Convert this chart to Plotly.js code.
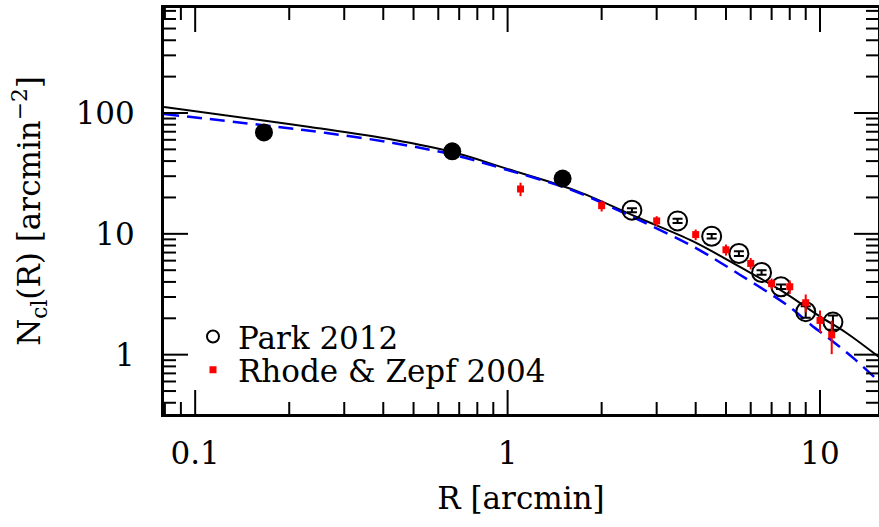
<!DOCTYPE html>
<html>
<head>
<meta charset="utf-8">
<script src="https://cdn.plot.ly/plotly-3.0.1.min.js"></script>
<style>html,body{margin:0;padding:0;background:#fff;}</style>
</head>
<body>
<div id="chart" style="width:879px;height:527px;"></div>
<script>
// ---- data ----
const fitSolidR = [0.0795, 0.1675, 0.233, 0.4305, 0.6668, 0.9927, 1.621, 2.587, 3.926, 5.539, 7.435, 9.986, 12.16, 15.43];
const fitSolidN = [112.1, 86.4, 76.6, 60.1, 47.5, 34.6, 23.2, 13.79, 8.66, 5.32, 3.45, 2.075, 1.512, 0.957];

const fitDashR = [0.0795, 0.1675, 0.2635, 0.4305, 0.6668, 0.9927, 1.621, 2.587, 3.926, 5.539, 7.888, 9.346, 11.07, 13.02, 15.43];
const fitDashN = [98.1, 78.9, 68.3, 56.5, 45.2, 33.9, 22.8, 13.27, 7.83, 4.59, 2.544, 1.771, 1.269, 0.9005, 0.601];

const innerR = [0.166, 0.665, 1.5];
const innerN = [69.1, 48.2, 28.7];

const parkR = [2.5, 3.5, 4.5, 5.5, 6.5, 7.5, 9.0, 11.0];
const parkN = [15.7, 12.8, 9.55, 6.87, 4.79, 3.65, 2.27, 1.86];
const parkErr = [0.6, 0.5, 0.4, 0.3, 0.2, 0.16, 0.25, 0.25];

const rzR = [1.1, 2.0, 3.0, 4.0, 5.0, 6.0, 7.0, 8.0, 9.0, 10.0, 10.9];
const rzN = [23.5, 17.1, 12.8, 9.86, 7.38, 5.69, 3.87, 3.65, 2.69, 1.92, 1.46];
const rzErr = [3.0, 1.8, 1.2, 1.0, 0.77, 0.62, 0.4, 0.47, 0.46, 0.4, 0.45];

const xMajor = [0.1, 1, 10];
const xMajorText = ['0.1', '1', '10'];
const xMinor = [0.08, 0.09, 0.2, 0.3, 0.4, 0.5, 0.6, 0.7, 0.8, 0.9, 2, 3, 4, 5, 6, 7, 8, 9];
const yMajor = [1, 10, 100];
const yMajorText = ['1', '10', '100'];
const yMinor = [0.4, 0.5, 0.6, 0.7, 0.8, 0.9, 2, 3, 4, 5, 6, 7, 8, 9, 20, 30, 40, 50, 60, 70, 80, 90, 200, 300, 400, 500, 600, 700];

const FONT = 'DejaVu Serif';
const W = 879, H = 527, ML = 164, MR = 1, MT = 8, MB = 113;
const PW = W - ML - MR, PH = H - MT - MB;
const MAJOR_LEN = 24, MINOR_LEN = 12;

// tick marks on all four sides, placed through the axes' own scales
const tickLine = {color: '#000', width: 2};
function xTicks(vals, len) {
  const f = len / PH;
  return vals.flatMap(v => [
    {type: 'line', xref: 'x', yref: 'paper', x0: v, x1: v, y0: 0, y1: f, line: tickLine},
    {type: 'line', xref: 'x', yref: 'paper', x0: v, x1: v, y0: 1, y1: 1 - f, line: tickLine}
  ]);
}
function yTicks(vals, len) {
  const f = len / PW;
  return vals.flatMap(v => [
    {type: 'line', xref: 'paper', yref: 'y', x0: 0, x1: f, y0: v, y1: v, line: tickLine},
    {type: 'line', xref: 'paper', yref: 'y', x0: 1, x1: 1 - f, y0: v, y1: v, line: tickLine}
  ]);
}
const tickShapes = [].concat(xTicks(xMajor, MAJOR_LEN), xTicks(xMinor, MINOR_LEN), yTicks(yMajor, MAJOR_LEN), yTicks(yMinor, MINOR_LEN));

const traces = [
  {x: fitSolidR, y: fitSolidN, mode: 'lines', line: {color: '#000', width: 2, shape: 'spline'}, showlegend: false},
  {x: fitDashR, y: fitDashN, mode: 'lines', line: {color: '#0000ff', width: 2.5, dash: '15px,8px', shape: 'spline'}, showlegend: false},
  {x: innerR, y: innerN, mode: 'markers', marker: {symbol: 'circle', size: 18, color: '#000'}, showlegend: false},
  {x: parkR, y: parkN, mode: 'markers', name: 'Park 2012', legend: 'legend',
   marker: {symbol: 'circle-open', size: 19, color: '#000', line: {width: 2, color: '#000'}},
   error_y: {type: 'data', array: parkErr, visible: true, color: '#000', thickness: 2, width: 5}},
  {x: rzR, y: rzN, mode: 'markers', name: 'Rhode &amp; Zepf 2004', legend: 'legend2',
   marker: {symbol: 'square', size: 7, color: '#ff0000'},
   error_y: {type: 'data', array: rzErr, visible: true, color: '#ff0000', thickness: 2, width: 0}}
];

const layout = {
  width: W, height: H,
  margin: {l: ML, r: MR, t: MT, b: MB},
  paper_bgcolor: '#fff', plot_bgcolor: '#fff',
  xaxis: {
    type: 'log', range: [-1.0998, 1.1856],
    showline: true, linewidth: 3, linecolor: '#000', mirror: true,
    ticks: '', showgrid: false, zeroline: false,
    tickmode: 'array', tickvals: xMajor, ticktext: xMajorText,
    tickfont: {family: FONT, size: 31, color: '#000'},
    ticklabelstandoff: 10,
    title: {text: 'R [arcmin]', font: {family: FONT, size: 31, color: '#000'}, standoff: 18}
  },
  yaxis: {
    type: 'log', range: [-0.491, 2.869],
    showline: true, linewidth: 3, linecolor: '#000', mirror: true,
    ticks: '', showgrid: false, zeroline: false,
    tickmode: 'array', tickvals: yMajor, ticktext: yMajorText,
    tickfont: {family: FONT, size: 31, color: '#000'},
    ticklabelstandoff: 20,
    title: {text: 'N<sub>cl</sub>(R) [arcmin<sup>−2</sup>]', font: {family: FONT, size: 31, color: '#000'}, standoff: 26}
  },
  shapes: tickShapes,
  legend: {x: 0.0336, y: 0.19, xanchor: 'left', yanchor: 'middle', bgcolor: 'rgba(0,0,0,0)', borderwidth: 0,
           font: {family: FONT, size: 31, color: '#000'}, itemsizing: 'constant', itemwidth: 40},
  legend2: {x: 0.0336, y: 0.108, xanchor: 'left', yanchor: 'middle', bgcolor: 'rgba(0,0,0,0)', borderwidth: 0,
           font: {family: FONT, size: 31, color: '#000'}, itemsizing: 'trace', itemwidth: 40},
  showlegend: true
};

Plotly.newPlot('chart', traces, layout, {staticPlot: true, displayModeBar: false});
</script>
</body>
</html>
